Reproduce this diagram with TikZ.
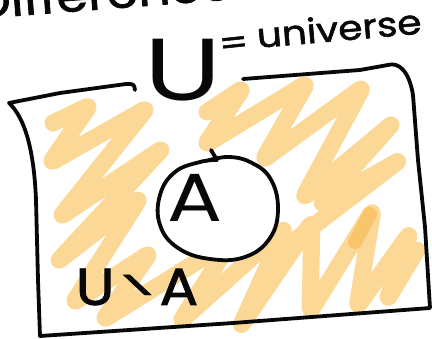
\documentclass[tikz,border=0pt]{standalone}
\usepackage{fontspec}
\setmainfont{Poppins}
\newfontfamily\penfont[FakeBold=1.6]{Poppins}
\usepackage{graphicx}
\definecolor{scribbleOrange}{HTML}{FCD896}
\definecolor{scribbleDeep}{HTML}{F8BE58}
\definecolor{inkBlack}{HTML}{080808}
\tikzset{
    % Pen strokes of the sketch
    ink/.style={
        draw=inkBlack,
        line width=3.8pt,
        line cap=round,
        line join=round,
    },
    % Highlighter shading of U minus A
    scribble/.style={
        draw=scribbleOrange,
        line width=17pt,
        line cap=round,
        line join=round,
        rounded corners=5pt,
    },
    % Handwritten labels
    hand text/.style={
        text=inkBlack,
        inner sep=0pt,
    },
}

\begin{document}
\begin{tikzpicture}[x=1pt, y=-1pt]
    \useasboundingbox (0,0) rectangle (432,339);
    \clip (0,0) rectangle (432,339);

    % shading
    \draw [scribble] (53,123) -- (90,105) -- (50,163) -- (147,108) -- (60,217)
        -- (163,148) -- (57,262) -- (140,198) -- (73,303) -- (150,253)
        -- (103,320) -- (232,240) -- (180,322) -- (285,228) -- (240,327)
        -- (312,222) -- (310,312) -- (373,210) -- (357,307) -- (410,233)
        -- (387,300) -- (417,250);
    \draw [scribble] (207,112) -- (243,88) -- (205,145) -- (307,83)
        -- (263,160) -- (363,87) -- (303,198) -- (393,123) -- (320,205)
        -- (400,160) -- (295,240);
    \draw [scribble, draw=scribbleDeep, opacity=0.7, line width=14pt]
        (370,214) -- (355,242);

    % set A
    \fill [white] plot [smooth cycle, tension=0.7] coordinates {
        (200,162) (175,172) (160,195) (160,225) (178,248) (210,259)
        (245,257) (270,238) (278,208) (270,178) (250,162) (225,158)};
    \draw [ink] (211,150) -- (217,160)
        plot [smooth, tension=0.7] coordinates {
        (217,160) (200,162) (175,172) (160,195) (160,225) (178,248)
        (210,259) (245,257) (270,238) (278,208) (270,178) (250,162)
        (228,157) (206,161)};

    % universe box
    \draw [ink] (135,90) .. controls (134,84) .. (126,84)
        -- (60,93) -- (9,103)
        .. controls (25,118) and (34,150) .. (36,200)
        -- (38,280) -- (40,336)
        -- (233,323) -- (430,308)
        -- (425,227) -- (418,160) -- (413,95)
        .. controls (409,70) and (398,62) .. (388,65)
        -- (360,70) -- (243,79);

    % labels
    \node (title) [hand text, anchor=base west, rotate=4.4, xscale=1.1,
        font=\fontsize{46}{46}\penfont] at (-24,19) {Difference};
    \node (letterU) [hand text, xscale=1.3, font=\fontsize{88}{88}\selectfont] at (183,70) {U};
    \node (equals) [hand text, rotate=6, xscale=1.2,
        font=\fontsize{34}{34}\penfont] at (234,46) {=};
    \node (universe) [hand text, rotate=5, xscale=1.15,
        font=\fontsize{34}{34}\penfont] at (339,28) {universe};
    \node (letterA) [hand text, xscale=1.2,
        font=\fontsize{68}{68}\selectfont] at (195,198) {A};
    \node (complement) [hand text, xscale=1.1, font=\fontsize{52}{52}\penfont] at (137,287)
        {U\raisebox{0.25em}{\scalebox{1.2}[0.35]{\textbackslash}}A};
\end{tikzpicture}
\end{document}
